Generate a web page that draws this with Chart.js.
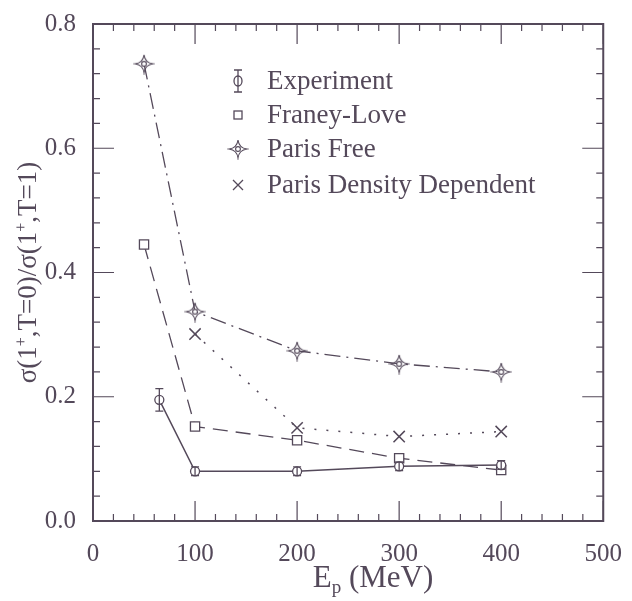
<!DOCTYPE html>
<html>
<head>
<meta charset="utf-8">
<script src="https://cdn.jsdelivr.net/npm/chart.js@4"></script>
<style>
  html, body { margin: 0; padding: 0; background: #fff; }
  #wrap { width: 632px; height: 601px; }
</style>
</head>
<body>
<div id="wrap"><canvas id="chart"></canvas></div>
<script>
// data
const expEnergies = [65, 100, 200, 300, 400];
const experiment = [0.195, 0.080, 0.080, 0.088, 0.090];
const experimentErr = [0.018, 0.007, 0.007, 0.007, 0.007];
const energies = [50, 100, 200, 300, 400];
const franeyLove = [0.445, 0.152, 0.130, 0.101, 0.082];
const parisFree = [0.736, 0.337, 0.274, 0.253, 0.240];
const ddEnergies = [100, 200, 300, 400];
const parisDD = [0.301, 0.150, 0.136, 0.144];
const xTicks = [0, 100, 200, 300, 400, 500];
const yTicks = [0.0, 0.2, 0.4, 0.6, 0.8];

const ink = '#54495a';
const serif = '"Liberation Serif", "Times New Roman", serif';

function pts(xs, ys) {
  return xs.map((x, i) => ({ x: x, y: ys[i] }));
}

// four pointed star used for "Paris Free"
function makeStar() {
  const c = document.createElement('canvas');
  c.width = 22; c.height = 22;
  const g = c.getContext('2d');
  const m = 11;
  g.strokeStyle = ink;
  g.lineWidth = 1.1;
  g.beginPath();
  g.moveTo(m, m - 9);
  g.quadraticCurveTo(m + 1, m - 1, m + 9, m);
  g.quadraticCurveTo(m + 1, m + 1, m, m + 9);
  g.quadraticCurveTo(m - 1, m + 1, m - 9, m);
  g.quadraticCurveTo(m - 1, m - 1, m, m - 9);
  g.stroke();
  g.fillStyle = '#fff';
  g.beginPath();
  g.arc(m, m, 2.4, 0, Math.PI * 2);
  g.fill();
  g.stroke();
  return c;
}
const star = makeStar();

const data = {
  datasets: [{
    label: 'Experiment',
    data: pts(expEnergies, experiment),
    borderColor: ink,
    borderWidth: 1.5,
    pointStyle: 'circle',
    pointRadius: 4.5,
    pointBorderWidth: 1.3,
    pointBackgroundColor: '#fff',
    pointBorderColor: ink
  }, {
    label: 'Franey-Love',
    data: pts(energies, franeyLove),
    borderColor: ink,
    borderWidth: 1.3,
    borderDash: [15, 8],
    pointStyle: 'rect',
    pointRadius: 6.5,
    pointBorderWidth: 1.3,
    pointBackgroundColor: '#fff',
    pointBorderColor: ink
  }, {
    label: 'Paris Free',
    data: pts(energies, parisFree),
    borderColor: ink,
    borderWidth: 1.3,
    borderDash: [16, 6, 2, 6],
    pointStyle: star,
    pointRadius: 10
  }, {
    label: 'Paris Density Dependent',
    data: pts(ddEnergies, parisDD),
    borderColor: ink,
    borderWidth: 1.5,
    borderDash: [2, 10],
    pointStyle: 'crossRot',
    pointRadius: 8,
    pointBorderWidth: 1.5,
    pointBorderColor: ink
  }]
};

function drawMarker(ctx, i, x, y) {
  ctx.save();
  ctx.strokeStyle = ink;
  ctx.fillStyle = '#fff';
  ctx.lineWidth = 1.3;
  ctx.setLineDash([]);
  if (i === 0) {
    ctx.beginPath();
    ctx.moveTo(x, y - 11); ctx.lineTo(x, y + 11);
    ctx.moveTo(x - 4, y - 11); ctx.lineTo(x + 4, y - 11);
    ctx.moveTo(x - 4, y + 11); ctx.lineTo(x + 4, y + 11);
    ctx.stroke();
    ctx.beginPath();
    ctx.ellipse(x, y, 4, 5, 0, 0, Math.PI * 2);
    ctx.fill(); ctx.stroke();
    ctx.beginPath();
    ctx.moveTo(x, y - 5); ctx.lineTo(x, y + 5);
    ctx.stroke();
  } else if (i === 1) {
    ctx.strokeRect(x - 4, y - 4, 8, 8);
  } else if (i === 2) {
    ctx.drawImage(star, x - 11, y - 11);
  } else {
    ctx.beginPath();
    ctx.moveTo(x - 5, y - 5); ctx.lineTo(x + 5, y + 5);
    ctx.moveTo(x + 5, y - 5); ctx.lineTo(x - 5, y + 5);
    ctx.stroke();
  }
  ctx.restore();
}

const extras = {
  id: 'extras',
  afterDatasetsDraw(chart) {
    const ctx = chart.ctx;
    const ys = chart.scales.y;
    const meta = chart.getDatasetMeta(0);
    ctx.save();
    ctx.strokeStyle = ink;
    ctx.lineWidth = 1.3;
    meta.data.forEach((p, i) => {
      const top = ys.getPixelForValue(experiment[i] + experimentErr[i]);
      const bot = ys.getPixelForValue(experiment[i] - experimentErr[i]);
      ctx.beginPath();
      ctx.moveTo(p.x, top); ctx.lineTo(p.x, bot);
      ctx.moveTo(p.x - 4, top); ctx.lineTo(p.x + 4, top);
      ctx.moveTo(p.x - 4, bot); ctx.lineTo(p.x + 4, bot);
      ctx.stroke();
    });
    ctx.restore();
  },
  afterDraw(chart) {
    const ctx = chart.ctx;
    const a = chart.chartArea;
    const xs = chart.scales.x, ys = chart.scales.y;
    ctx.save();
    ctx.strokeStyle = ink;
    ctx.lineWidth = 2;
    ctx.strokeRect(a.left, a.top, a.right - a.left, a.bottom - a.top);

    // inward ticks on all four sides
    ctx.lineWidth = 1.2;
    ctx.beginPath();
    for (let v = 0; v <= 500; v += 20) {
      const px = xs.getPixelForValue(v);
      const len = v % 100 === 0 ? 20 : 7;
      ctx.moveTo(px, a.bottom); ctx.lineTo(px, a.bottom - len);
      ctx.moveTo(px, a.top); ctx.lineTo(px, a.top + len);
    }
    for (let k = 0; k <= 20; k++) {
      const py = ys.getPixelForValue(k * 0.04);
      const len = k % 5 === 0 ? 21 : 7;
      ctx.moveTo(a.left, py); ctx.lineTo(a.left + len, py);
      ctx.moveTo(a.right, py); ctx.lineTo(a.right - len, py);
    }
    ctx.stroke();

    // legend
    ctx.fillStyle = ink;
    ctx.textBaseline = 'middle';
    ctx.textAlign = 'left';
    ctx.font = '27px ' + serif;
    const rows = [81, 115, 149, 185];
    chart.data.datasets.forEach((ds, i) => {
      drawMarker(ctx, i, 238, rows[i]);
      ctx.fillText(ds.label, 267, rows[i] + 1);
    });

    // x title with subscript
    ctx.textBaseline = 'alphabetic';
    ctx.font = '31px ' + serif;
    const w1 = ctx.measureText('E').width;
    ctx.font = '19px ' + serif;
    const w2 = ctx.measureText('p').width;
    ctx.font = '31px ' + serif;
    const w3 = ctx.measureText(' (MeV)').width;
    let x0 = 373 - (w1 + w2 + w3) / 2;
    ctx.fillText('E', x0, 587);
    ctx.font = '19px ' + serif;
    ctx.fillText('p', x0 + w1, 593);
    ctx.font = '31px ' + serif;
    ctx.fillText(' (MeV)', x0 + w1 + w2, 587);

    // y title with superscripts
    const parts = [['σ(1', 0], ['+', 1], [',T=0)/σ(1', 0], ['+', 1], [',T=1)', 0]];
    ctx.translate(36, (a.top + a.bottom) / 2);
    ctx.rotate(-Math.PI / 2);
    let total = 0;
    parts.forEach(p => {
      ctx.font = (p[1] ? '16px ' : '27px ') + serif;
      total += ctx.measureText(p[0]).width;
    });
    let cx = -total / 2;
    parts.forEach(p => {
      ctx.font = (p[1] ? '16px ' : '27px ') + serif;
      ctx.fillText(p[0], cx, p[1] ? -10 : 0);
      cx += ctx.measureText(p[0]).width;
    });
    ctx.restore();
  }
};

const config = {
  type: 'line',
  data,
  options: {
    responsive: true,
    maintainAspectRatio: false,
    animation: false,
    layout: { padding: { top: 14, right: 23, left: 0, bottom: 0 } },
    plugins: { legend: { display: false }, tooltip: { enabled: false } },
    scales: {
      x: {
        type: 'linear',
        min: 0, max: 500,
        afterBuildTicks: s => { s.ticks = xTicks.map(v => ({ value: v })); },
        afterFit: s => { s.height = 80; },
        grid: { display: false },
        border: { display: false },
        ticks: { color: ink, padding: 10, font: { family: serif, size: 25 } }
      },
      y: {
        min: 0, max: 0.8,
        afterBuildTicks: s => { s.ticks = yTicks.map(v => ({ value: v })); },
        afterFit: s => { s.width = 93; },
        grid: { display: false },
        border: { display: false },
        ticks: {
          color: ink, padding: 9,
          font: { family: serif, size: 25 },
          callback: v => v.toFixed(1)
        }
      }
    }
  },
  plugins: [extras]
};

var chart = new Chart(document.getElementById('chart'), config);
</script>
</body>
</html>
